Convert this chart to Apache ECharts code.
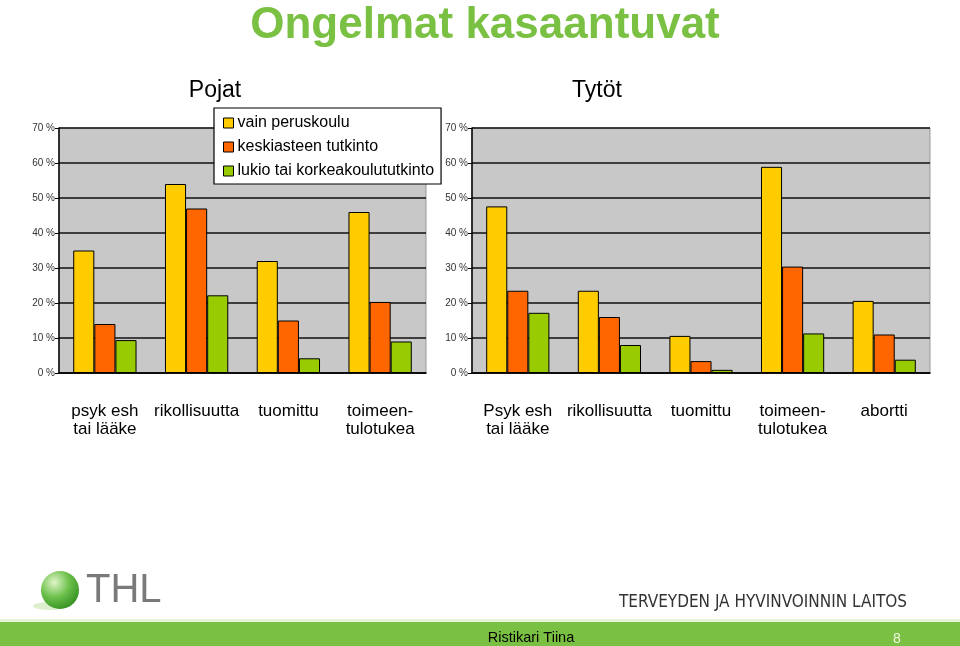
<!DOCTYPE html>
<html>
<head>
<meta charset="utf-8">
<script src="https://cdn.jsdelivr.net/npm/echarts@6/dist/echarts.min.js"></script>
<style>
html,body{margin:0;padding:0;background:#fff;}
#c{width:960px;height:646px;}
</style>
</head>
<body>
<div id="c"></div>
<script>
// ---- data ----
var seriesNames = ['vain peruskoulu', 'keskiasteen tutkinto', 'lukio tai korkeakoulututkinto'];
var boysCategories = ['psyk esh\ntai lääke', 'rikollisuutta', 'tuomittu', 'toimeen-\ntulotukea'];
var boysPeruskoulu = [35, 54, 32, 46];
var boysKeskiaste = [14, 47, 15, 20.3];
var boysLukio = [9.4, 22.2, 4.2, 9];
var girlsCategories = ['Psyk esh\ntai lääke', 'rikollisuutta', 'tuomittu', 'toimeen-\ntulotukea', 'abortti'];
var girlsPeruskoulu = [47.6, 23.5, 10.6, 58.9, 20.6];
var girlsKeskiaste = [23.5, 16, 3.4, 30.4, 11];
var girlsLukio = [17.2, 8, 0.9, 11.3, 3.8];
var yTicks = [0, 10, 20, 30, 40, 50, 60, 70];

var colors = ['#FFCC00', '#FF6600', '#99CC00'];
var font = 'Liberation Sans, Arial, sans-serif';

function yAxis(gi) {
  return {
    gridIndex: gi, type: 'value', min: yTicks[0], max: yTicks[yTicks.length - 1], interval: 10,
    axisLine: {show: true, lineStyle: {color: '#000', width: 1.5}},
    axisTick: {show: true, length: 4, lineStyle: {color: '#000'}},
    axisLabel: {formatter: function (v) { return v + ' %'; }, fontSize: 10, color: '#333', fontFamily: font, margin: 4},
    splitLine: {show: true, lineStyle: {color: '#111', width: 1.5}}
  };
}
function xAxis(gi, cats) {
  return {
    gridIndex: gi, type: 'category', data: cats,
    axisLine: {show: true, lineStyle: {color: '#000', width: 1.5}},
    axisTick: {show: false},
    axisLabel: {fontSize: 17, color: '#000', fontFamily: font, margin: 29, lineHeight: 18, interval: 0}
  };
}
function bar(name, xi, data, ci) {
  return {
    name: name, type: 'bar', xAxisIndex: xi, yAxisIndex: xi, data: data,
    barGap: '0%', barCategoryGap: '31%',
    itemStyle: {color: colors[ci], borderColor: '#000', borderWidth: 1},
    emphasis: {disabled: true}
  };
}

var chart = echarts.init(document.getElementById('c'), null, {renderer: 'canvas'});
chart.setOption({
  animation: false,
  backgroundColor: '#fff',
  grid: [
    {left: 59, top: 128, width: 367, height: 245, backgroundColor: '#C8C8C8', show: true, borderColor: '#999', borderWidth: 1},
    {left: 472, top: 128, width: 458, height: 245, backgroundColor: '#C8C8C8', show: true, borderColor: '#999', borderWidth: 1}
  ],
  xAxis: [xAxis(0, boysCategories), xAxis(1, girlsCategories)],
  yAxis: [yAxis(0), yAxis(1)],
  legend: {
    data: seriesNames, orient: 'vertical', left: 214, top: 108, width: 227,
    padding: [6, 7, 4, 9], itemGap: 6, itemWidth: 10, itemHeight: 10,
    backgroundColor: '#fff', borderColor: '#000', borderWidth: 1.2,
    textStyle: {fontSize: 16, color: '#000', fontFamily: font, lineHeight: 18, padding: [0, 0, 0, -1]},
    icon: 'rect', itemStyle: {borderColor: '#000', borderWidth: 1},
    selectedMode: false
  },
  series: [
    bar(seriesNames[0], 0, boysPeruskoulu, 0),
    bar(seriesNames[1], 0, boysKeskiaste, 1),
    bar(seriesNames[2], 0, boysLukio, 2),
    bar(seriesNames[0], 1, girlsPeruskoulu, 0),
    bar(seriesNames[1], 1, girlsKeskiaste, 1),
    bar(seriesNames[2], 1, girlsLukio, 2)
  ],
  graphic: [
    {type: 'text', x: 485, y: 26, style: {text: 'Ongelmat kasaantuvat', fontSize: 44, fontWeight: 'bold', fill: '#7AC143', fontFamily: font, textAlign: 'center', textVerticalAlign: 'middle'}},
    {type: 'text', x: 215, y: 91, style: {text: 'Pojat', fontSize: 23, fill: '#000', fontFamily: font, textAlign: 'center', textVerticalAlign: 'middle'}},
    {type: 'text', x: 597, y: 91, style: {text: 'Tytöt', fontSize: 23, fill: '#000', fontFamily: font, textAlign: 'center', textVerticalAlign: 'middle'}},
    // footer band
    {type: 'rect', shape: {x: 0, y: 619, width: 960, height: 3}, style: {fill: '#E6F2DA'}},
    {type: 'rect', shape: {x: 0, y: 622, width: 960, height: 24}, style: {fill: '#7AC143'}},
    {type: 'text', x: 531, y: 638, style: {text: 'Ristikari Tiina', fontSize: 14.5, fill: '#000', fontFamily: font, textAlign: 'center', textVerticalAlign: 'middle'}},
    {type: 'text', x: 897, y: 639, style: {text: '8', fontSize: 14, fill: '#F2F8E0', fontFamily: font, textAlign: 'center', textVerticalAlign: 'middle'}},
    {type: 'text', x: 907, y: 603, style: {text: 'TERVEYDEN JA HYVINVOINNIN LAITOS', fontSize: 17, fill: '#333', fontFamily: 'DejaVu Sans Condensed, Liberation Sans Narrow, sans-serif', textAlign: 'right', textVerticalAlign: 'middle'}},
    // THL logo
    {type: 'ellipse', shape: {cx: 50, cy: 606, rx: 17, ry: 4}, style: {fill: 'rgba(122,193,67,0.25)'}},
    {type: 'circle', shape: {cx: 60, cy: 590, r: 19}, style: {fill: new echarts.graphic.RadialGradient(0.35, 0.3, 0.8, [{offset: 0, color: '#DFF5C8'}, {offset: 0.5, color: '#6CC04A'}, {offset: 1, color: '#2E8B1E'}])}},
    {type: 'text', x: 86, y: 591, style: {text: 'THL', fontSize: 40, fill: '#7A7A7A', fontFamily: font, textVerticalAlign: 'middle'}}
  ]
});
</script>
</body>
</html>
